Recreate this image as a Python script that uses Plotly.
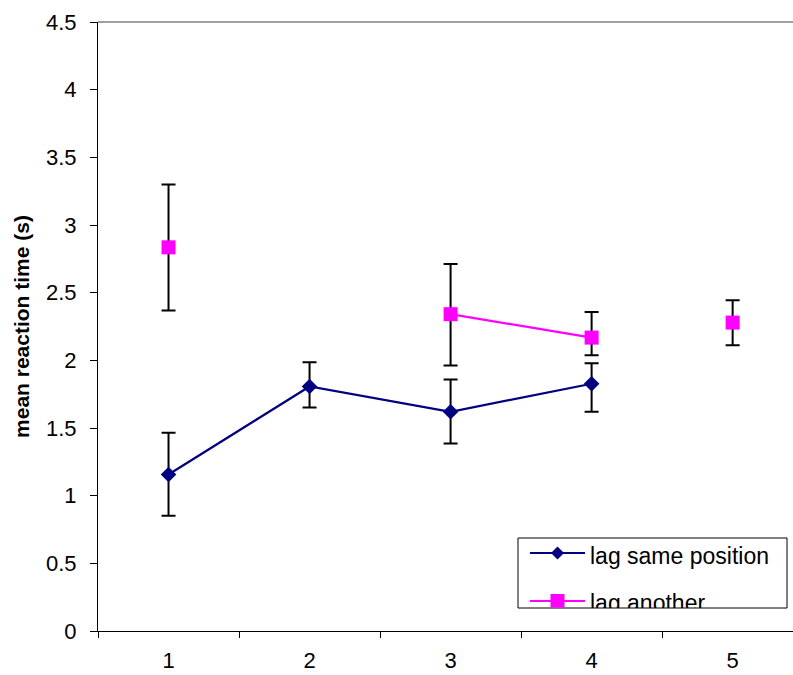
import plotly.graph_objects as go

categories = ["1", "2", "3", "4", "5"]

same_mean = [1.156, 1.807, 1.62, 1.827, None]
same_hi = [1.464, 1.985, 1.859, 1.978, None]
same_lo = [0.852, 1.652, 1.385, 1.62, None]

another_mean = [2.835, None, 2.341, 2.168, 2.279]
another_hi = [3.299, None, 2.711, 2.358, 2.444]
another_lo = [2.368, None, 1.961, 2.037, 2.111]

series_names = ["lag same position", "lag another"]

y_ticks = [0, 0.5, 1, 1.5, 2, 2.5, 3, 3.5, 4, 4.5]
y_ticklabels = ["0", "0.5", "1", "1.5", "2", "2.5", "3", "3.5", "4", "4.5"]


def err_parts(mean, hi, lo):
    up = [None if m is None else h - m for m, h in zip(mean, hi)]
    dn = [None if m is None else m - l for m, l in zip(mean, lo)]
    return up, dn


NAVY = "#000080"
MAGENTA = "#FF00FF"
FONT = "Liberation Sans, Arial, sans-serif"
W, H = 793, 675
ML, MR, MT, MB = 98, 0, 22, 44
PW, PH = W - ML - MR, H - MT - MB


def px(xp):
    return (xp - ML) / PW


def py(yp):
    return (H - MB - yp) / PH


fig = go.Figure()

up, dn = err_parts(same_mean, same_hi, same_lo)
fig.add_trace(go.Scatter(
    x=categories, y=same_mean, name=series_names[0], mode="lines+markers",
    line=dict(color=NAVY, width=2.2),
    marker=dict(symbol="diamond", size=12, color=NAVY),
    error_y=dict(type="data", symmetric=False, array=up, arrayminus=dn,
                 color="black", thickness=2, width=7),
))

# "lag another": the line only joins points 3 and 4
up2, dn2 = err_parts(another_mean, another_hi, another_lo)
joined = [0, 2, 3]
solo = [4]


def pick(vals, idx):
    return [v if i in idx else None for i, v in enumerate(vals)]


fig.add_trace(go.Scatter(
    x=categories, y=pick(another_mean, joined), name=series_names[1], mode="lines+markers",
    line=dict(color=MAGENTA, width=2.2),
    marker=dict(symbol="square", size=14, color=MAGENTA),
    error_y=dict(type="data", symmetric=False, array=pick(up2, joined), arrayminus=pick(dn2, joined),
                 color="black", thickness=2, width=7),
))
fig.add_trace(go.Scatter(
    x=categories, y=pick(another_mean, solo), name=series_names[1], mode="markers",
    marker=dict(symbol="square", size=14, color=MAGENTA),
    error_y=dict(type="data", symmetric=False, array=pick(up2, solo), arrayminus=pick(dn2, solo),
                 color="black", thickness=2, width=7),
))

# legend box (clipped at its bottom, as in the original)
shapes = [
    dict(type="line", xref="paper", yref="paper", x0=0, x1=1, y0=1, y1=1,
         line=dict(color="#808080", width=1.5)),
    dict(type="rect", xref="paper", yref="paper", x0=px(518), x1=px(787), y0=py(608), y1=py(538),
         line=dict(color="black", width=1), fillcolor="white", layer="above"),
    dict(type="line", xref="paper", yref="paper", x0=px(530), x1=px(585), y0=py(553), y1=py(553),
         line=dict(color=NAVY, width=2), layer="above"),
    dict(type="path", xref="paper", yref="paper", layer="above",
         path=f"M {px(557.5)} {py(546.5)} L {px(564)} {py(553)} L {px(557.5)} {py(559.5)} L {px(551)} {py(553)} Z",
         fillcolor=NAVY, line=dict(width=0)),
    dict(type="line", xref="paper", yref="paper", x0=px(530), x1=px(585), y0=py(601), y1=py(601),
         line=dict(color=MAGENTA, width=2), layer="above"),
    dict(type="rect", xref="paper", yref="paper", x0=px(550.5), x1=px(564.5), y0=py(607.5), y1=py(594),
         fillcolor=MAGENTA, line=dict(width=0), layer="above"),
]

annotations = [
    dict(text=series_names[0], xref="paper", yref="paper", x=px(588), y=py(541),
         xanchor="left", yanchor="top", showarrow=False, font=dict(size=23, color="black")),
    dict(text=series_names[1], xref="paper", yref="paper", x=px(588), y=py(588),
         xanchor="left", yanchor="top", valign="top", height=18, showarrow=False,
         font=dict(size=23, color="black")),
]

fig.update_layout(
    width=W, height=H,
    margin=dict(l=ML, r=MR, t=MT, b=MB),
    paper_bgcolor="white", plot_bgcolor="white",
    font=dict(family=FONT, size=22, color="black"),
    showlegend=False,
    xaxis=dict(
        type="category", range=[-0.5, 4.428], tickson="boundaries",
        ticks="outside", ticklen=6, tickcolor="black", ticklabelstandoff=10,
        tickfont=dict(size=22),
        showline=True, linecolor="black", linewidth=1,
        showgrid=False, zeroline=False, fixedrange=True,
    ),
    yaxis=dict(
        range=[0, 4.5], tickvals=y_ticks, ticktext=y_ticklabels,
        ticks="outside", ticklen=7, tickcolor="black", ticklabelstandoff=9,
        tickfont=dict(size=22),
        showline=True, linecolor="black", linewidth=1,
        showgrid=False, zeroline=False,
        title=dict(text="<b>mean reaction time (s)</b>", font=dict(size=21), standoff=10),
    ),
    shapes=shapes,
    annotations=annotations,
)

fig.write_html("out.html")
